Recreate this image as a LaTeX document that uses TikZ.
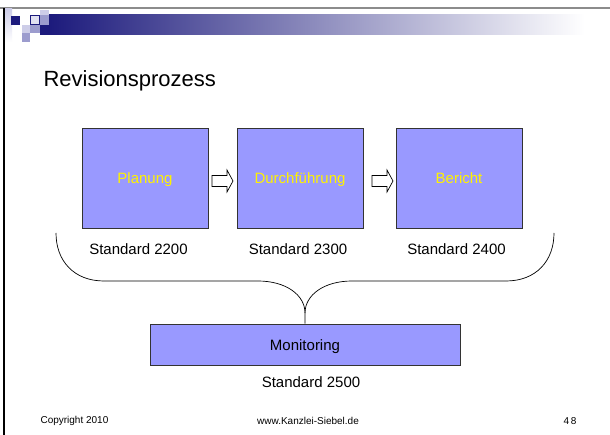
\documentclass[tikz,border=0pt]{standalone}
\usepackage{fontspec}
\setmainfont{Liberation Sans}
\usepackage{xcolor}

\definecolor{boxblue}{HTML}{9999FF}
\definecolor{navy}{HTML}{1C1A7C}
\definecolor{midlav}{HTML}{9C9CCE}
\definecolor{lightlav}{HTML}{CDCDE8}

\tikzset{
  stage/.style={draw=black!80, line width=0.8pt, fill=boxblue, minimum width=126pt, minimum height=100pt,
    text=yellow, text height=13pt, text depth=1pt, font=\fontsize{15}{18}\selectfont},
  flowarrow/.style={draw=black, fill=white, line width=0.7pt},
  stdlabel/.style={font=\fontsize{15}{18}\selectfont},
  footer/.style={font=\fontsize{10}{12}\selectfont},
  brace/.style={line width=0.7pt}
}

\begin{document}
\begin{tikzpicture}[x=1pt, y=-1pt]
  \useasboundingbox (0,0) rectangle (610,435);
  \fill[white] (0,0) rectangle (610,435);

  % slide frame and banner
  \draw[line width=2pt, black!45] (0,8) -- (610,8);
  \draw[line width=2pt, black] (4,8) -- (4,435);
  \shade[top color=lightlav, bottom color=white] (5,9) rectangle (12,42);
  \shade[left color=navy, right color=white] (48,15) rectangle (585,35);
  \fill[navy] (11,16) rectangle (20,25);
  \fill[lightlav] (40,10) rectangle (49,15);
  \fill[midlav] (40,15) rectangle (49,25);
  \fill[navy] (40,25) rectangle (49,35);
  \filldraw[fill=lightlav!60, draw=navy, line width=0.8pt] (30.5,15.5) rectangle (39.5,24.5);
  \fill[lightlav] (22,25) rectangle (30,33);
  \fill[midlav] (30,25) rectangle (40,33);
  \fill[midlav] (22,33) rectangle (30,42);

  \node[anchor=base west, font=\fontsize{22}{26}\selectfont] (title) at (40,87) {Revisionsprozess};

  % process stages
  \node[stage] (plan) at (145,178) {Planung};
  \node[stage] (durch) at (300,178) {Durchführung};
  \node[stage] (ber) at (459,178) {Bericht};

  % hollow arrows between the stages
  \coordinate (arA) at (222.5,181);
  \coordinate (arB) at (382.5,181);
  \foreach \a in {arA,arB}
    \draw[flowarrow] (\a) ++(-10.5,-5.5) -- ++(15,0) -- ++(0,-5.5) -- ++(6,11)
      -- ++(-6,11) -- ++(0,-5.5) -- ++(-15,0) -- cycle;

  \node[stdlabel] (std1) at (138.5,249) {Standard 2200};
  \node[stdlabel] (std2) at (298,249) {Standard 2300};
  \node[stdlabel] (std3) at (456.5,249) {Standard 2400};

  \node[stage, minimum width=310pt, minimum height=41pt, text=black] (mon) at (305,344.5) {Monitoring};
  \node[stdlabel] (std5) at (311,382) {Standard 2500};

  % brace
  \coordinate (brL) at (56,233);
  \coordinate (brR) at (554,233);
  \coordinate (cusp) at (305,313);
  \draw[brace] (brL) .. controls +(0,28) and +(-30,0) .. (104,281) -- (258,281)
    .. controls +(28,0) and +(0,-18) .. (cusp) -- (mon.north);
  \draw[brace] (cusp) .. controls +(0,-18) and +(-28,0) .. (352,281) -- (506,281)
    .. controls +(30,0) and +(0,28) .. (brR);

  % footer
  \node[footer, anchor=west] (copy) at (37,421) {Copyright 2010};
  \node[footer] (web) at (308,421) {www.Kanzlei-Siebel.de};
  \node[footer] (page) at (570,421) {4\kern1.5pt 8};
\end{tikzpicture}
\end{document}
